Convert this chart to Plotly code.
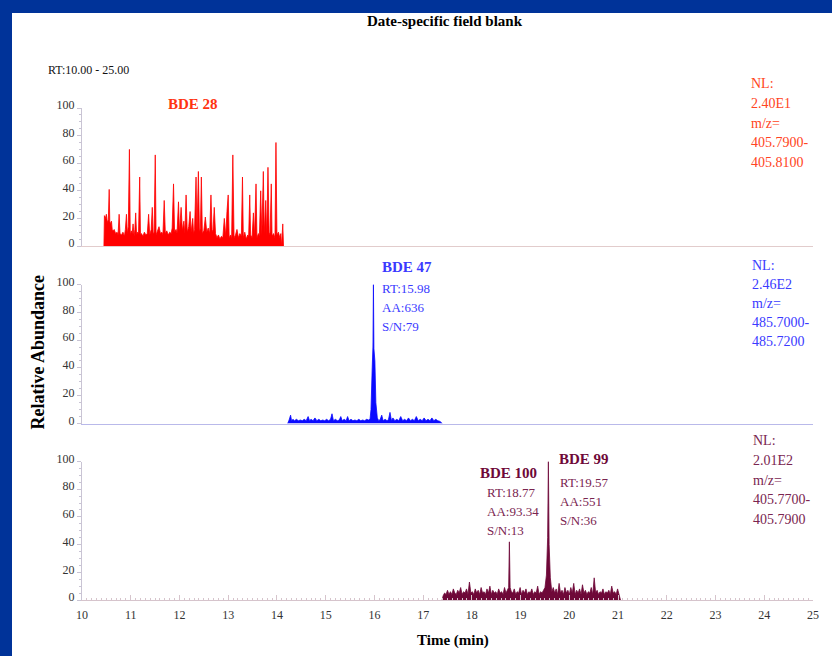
import plotly.graph_objects as go

# ---------------- data ----------------
x_ticks = [10, 11, 12, 13, 14, 15, 16, 17, 18, 19, 20, 21, 22, 23, 24, 25]
y_ticks = [0, 20, 40, 60, 80, 100]

# BDE 28 trace (retention time in min, relative abundance %)
bde28_points = [
    (10.45, 0), (10.46, 22), (10.48, 20), (10.50, 23), (10.52, 17), (10.54, 19),
    (10.558, 41), (10.57, 18), (10.59, 16), (10.605, 18), (10.62, 12), (10.64, 11),
    (10.66, 12), (10.69, 9), (10.72, 10), (10.74, 8), (10.762, 23), (10.78, 9),
    (10.81, 8), (10.84, 10), (10.87, 7), (10.89, 12), (10.912, 23), (10.93, 9),
    (10.95, 14), (10.973, 70), (10.99, 8), (11.01, 11), (11.03, 9), (11.048, 16),
    (11.07, 7), (11.085, 12), (11.102, 24), (11.12, 8), (11.14, 10), (11.16, 9),
    (11.184, 50), (11.20, 8), (11.22, 9), (11.25, 7), (11.28, 10), (11.31, 8),
    (11.34, 9), (11.367, 23), (11.39, 8), (11.42, 12), (11.442, 28), (11.46, 9),
    (11.48, 10), (11.503, 66), (11.52, 8), (11.55, 11), (11.58, 14), (11.61, 9),
    (11.64, 10), (11.66, 8), (11.687, 33), (11.71, 9), (11.74, 11), (11.77, 8),
    (11.80, 10), (11.83, 9), (11.85, 13), (11.878, 45), (11.90, 10), (11.93, 12),
    (11.95, 9), (11.98, 32), (12.00, 10), (12.034, 28), (12.06, 11), (12.09, 18),
    (12.11, 9), (12.136, 37), (12.16, 10), (12.19, 14), (12.218, 25), (12.24, 10),
    (12.272, 20), (12.29, 9), (12.31, 12), (12.34, 50), (12.36, 11), (12.388, 54),
    (12.41, 10), (12.43, 13), (12.449, 50), (12.47, 9), (12.50, 11), (12.531, 21),
    (12.56, 10), (12.59, 13), (12.62, 9), (12.646, 37), (12.67, 10), (12.69, 12),
    (12.714, 28), (12.74, 9), (12.77, 6), (12.80, 8), (12.83, 5), (12.86, 7),
    (12.89, 6), (12.92, 20), (12.95, 7), (12.975, 25), (13.0, 37), (13.02, 6),
    (13.05, 8), (13.07, 5), (13.095, 66), (13.12, 6), (13.15, 8), (13.18, 12),
    (13.21, 6), (13.24, 9), (13.27, 7), (13.293, 50), (13.31, 6), (13.34, 10),
    (13.37, 5), (13.40, 8), (13.42, 7), (13.442, 37), (13.46, 8), (13.49, 6),
    (13.517, 24), (13.54, 7), (13.571, 45), (13.59, 6), (13.62, 9), (13.64, 7),
    (13.667, 40), (13.69, 8), (13.721, 54), (13.74, 9), (13.77, 33), (13.79, 7),
    (13.816, 57), (13.84, 8), (13.86, 10), (13.884, 45), (13.90, 7), (13.93, 9),
    (13.96, 6), (13.98, 75), (14.00, 8), (14.03, 10), (14.06, 6), (14.08, 9),
    (14.095, 0), (14.12, 16), (14.135, 0),
]

# BDE 47 trace
bde47_points = [
    (14.22, 0), (14.23, 1.5), (14.25, 2.5), (14.28, 6), (14.30, 2), (14.33, 3),
    (14.36, 2), (14.40, 3), (14.44, 2), (14.48, 2.5), (14.52, 2), (14.56, 3),
    (14.60, 2), (14.64, 5), (14.67, 2), (14.70, 3), (14.74, 2), (14.78, 4),
    (14.82, 2), (14.86, 3), (14.90, 2), (14.94, 2.5), (14.98, 2), (15.02, 3),
    (15.06, 2), (15.10, 3), (15.13, 7), (15.16, 2), (15.20, 3), (15.24, 2),
    (15.28, 2.5), (15.31, 5), (15.34, 2), (15.38, 3), (15.42, 2), (15.45, 5),
    (15.48, 2), (15.52, 3), (15.56, 2), (15.60, 2.5), (15.64, 2), (15.68, 3),
    (15.72, 2), (15.76, 2.5), (15.80, 2), (15.84, 3), (15.88, 2.5), (15.91, 3),
    (15.93, 10), (15.955, 40), (15.97, 55), (15.98, 100), (15.99, 54), (16.01, 45),
    (16.03, 15), (16.06, 4), (16.09, 2), (16.12, 3), (16.15, 6), (16.18, 2),
    (16.22, 3), (16.26, 2), (16.29, 3), (16.32, 8), (16.35, 2), (16.38, 4),
    (16.42, 2), (16.46, 3), (16.50, 2), (16.54, 5), (16.58, 2), (16.62, 3),
    (16.66, 2), (16.70, 4), (16.74, 2), (16.78, 3), (16.82, 2), (16.86, 5),
    (16.90, 2), (16.94, 3), (16.98, 2), (17.02, 4), (17.06, 2), (17.10, 3),
    (17.14, 2), (17.18, 4), (17.22, 2), (17.26, 3), (17.30, 2), (17.35, 1.5),
    (17.39, 0),
]

# BDE 100 / BDE 99 trace
bde99_points = [
    (17.39, 0), (17.41, 3), (17.44, 5), (17.47, 4), (17.50, 7), (17.53, 4),
    (17.56, 6), (17.59, 4), (17.62, 8), (17.65, 5), (17.68, 4), (17.71, 7),
    (17.74, 5), (17.77, 9), (17.80, 4), (17.83, 6), (17.86, 5), (17.89, 8),
    (17.92, 4), (17.95, 13), (17.98, 5), (18.01, 6), (18.04, 4), (18.07, 8),
    (18.10, 5), (18.13, 7), (18.16, 4), (18.19, 9), (18.22, 5), (18.25, 6),
    (18.28, 4), (18.31, 8), (18.34, 5), (18.37, 10), (18.40, 4), (18.43, 7),
    (18.46, 5), (18.49, 6), (18.52, 4), (18.55, 8), (18.58, 5), (18.61, 6),
    (18.64, 4), (18.67, 9), (18.70, 5), (18.73, 7), (18.755, 9), (18.77, 42),
    (18.785, 9), (18.81, 6), (18.84, 5), (18.87, 8), (18.90, 4), (18.93, 6),
    (18.96, 5), (18.99, 9), (19.02, 4), (19.05, 7), (19.08, 5), (19.11, 8),
    (19.14, 4), (19.17, 6), (19.20, 5), (19.23, 8), (19.26, 4), (19.29, 6),
    (19.32, 5), (19.35, 10), (19.38, 4), (19.41, 6), (19.44, 5), (19.47, 7),
    (19.50, 9), (19.53, 18), (19.555, 45), (19.57, 100), (19.585, 40), (19.61, 16),
    (19.64, 6), (19.67, 9), (19.70, 5), (19.73, 8), (19.76, 4), (19.79, 12),
    (19.82, 5), (19.85, 7), (19.88, 4), (19.91, 9), (19.94, 5), (19.97, 7),
    (20.00, 4), (20.03, 9), (20.06, 5), (20.09, 12), (20.12, 4), (20.15, 7),
    (20.18, 5), (20.21, 8), (20.24, 4), (20.27, 11), (20.30, 5), (20.33, 7),
    (20.36, 4), (20.39, 6), (20.42, 5), (20.45, 9), (20.48, 4), (20.51, 16),
    (20.54, 5), (20.57, 7), (20.60, 4), (20.63, 6), (20.66, 5), (20.69, 8),
    (20.72, 4), (20.75, 6), (20.78, 5), (20.81, 7), (20.84, 4), (20.87, 10),
    (20.90, 5), (20.93, 6), (20.96, 4), (20.99, 8), (21.03, 3), (21.05, 0),
]

nl_bde28 = ["NL:", "2.40E1", "m/z=", "405.7900-", "405.8100"]
nl_bde47 = ["NL:", "2.46E2", "m/z=", "485.7000-", "485.7200"]
nl_bde99 = ["NL:", "2.01E2", "m/z=", "405.7700-", "405.7900"]
peak_bde47 = ["RT:15.98", "AA:636", "S/N:79"]
peak_bde100 = ["RT:18.77", "AA:93.34", "S/N:13"]
peak_bde99 = ["RT:19.57", "AA:551", "S/N:36"]

# ---------------- layout geometry ----------------
FIG_W, FIG_H = 832, 656
M_L, M_R, M_T, M_B = 82, 19, 108, 56
PLOT_W = FIG_W - M_L - M_R
PLOT_H = FIG_H - M_T - M_B
BOTTOM = FIG_H - M_B
FONT = "Liberation Serif"


def px_x(px):
    return (px - M_L) / PLOT_W


def px_y(py):
    return (BOTTOM - py) / PLOT_H


def dom(top, bottom):
    return [max(0.0, px_y(bottom)), min(1.0, px_y(top))]


RED, RED_T = "#ff0000", "#ff4422"
BLUE, BLUE_T = "#0a0aff", "#3a3aff"
MAROON, MAROON_T = "#6e0838", "#7a2550"
AXIS_C = "#c9c4d4"

fig = go.Figure()
panels = [
    (bde28_points, RED, "x3", "y3"),
    (bde47_points, BLUE, "x2", "y2"),
    (bde99_points, MAROON, "x", "y"),
]
for pts, col, xa, ya in panels:
    fig.add_trace(go.Scatter(
        x=[p[0] for p in pts], y=[p[1] for p in pts],
        mode="lines", line=dict(color=col, width=0.8),
        fill="tozeroy", fillcolor=col, xaxis=xa, yaxis=ya,
        hoverinfo="skip", showlegend=False))

tickfont = dict(family=FONT, size=12, color="#333333")
yaxis_common = dict(
    range=[0, 100], tickvals=y_ticks, ticks="outside", ticklen=4, tickwidth=1,
    tickcolor=AXIS_C, showline=True, linecolor=AXIS_C, linewidth=1,
    showgrid=False, zeroline=False, tickfont=tickfont, ticklabelshift=-3,
    minor=dict(dtick=5, ticks="outside", ticklen=2, tickcolor=AXIS_C),
    fixedrange=True)

fig.update_layout(
    width=FIG_W, height=FIG_H,
    margin=dict(l=M_L, r=M_R, t=M_T, b=M_B, autoexpand=False),
    paper_bgcolor="white", plot_bgcolor="white",
    xaxis=dict(domain=[0, 1], range=[10, 25], anchor="y", tickvals=x_ticks,
               ticks="inside", ticklen=5, tickcolor="#d6c4cc", showline=True,
               linecolor="#d6c4cc", showgrid=False, zeroline=False,
               tickfont=dict(family=FONT, size=12, color="#333333"),
               ticklabelstandoff=4,
               minor=dict(dtick=0.1, ticks="inside", ticklen=2.5, tickcolor="#d6c4cc")),
    xaxis2=dict(matches="x", anchor="y2", showticklabels=False, ticks="",
                showline=True, linecolor="#b9b9ea", showgrid=False, zeroline=False),
    xaxis3=dict(matches="x", anchor="y3", showticklabels=False, ticks="",
                showline=True, linecolor="#e2cccc", showgrid=False, zeroline=False),
    yaxis=dict(domain=dom(461.5, 600), anchor="x", **yaxis_common),
    yaxis2=dict(domain=dom(284.5, 423.5), anchor="x2", **yaxis_common),
    yaxis3=dict(domain=dom(108, 246), anchor="x3", **yaxis_common),
)

ann = []


def text(s, px, py, color="black", size=13, bold=False, anchor="left", angle=0):
    ann.append(dict(
        text=f"<b>{s}</b>" if bold else s, x=px_x(px), y=px_y(py),
        xref="paper", yref="paper", xanchor=anchor, yanchor="middle",
        showarrow=False, textangle=angle, borderpad=0,
        font=dict(family=FONT, size=size, color=color)))


def block(lines, px, py0, step, color, size):
    for i, s in enumerate(lines):
        text(s, px, py0 + i * step, color=color, size=size)


text("Date-specific field blank", 445, 21, bold=True, size=15, anchor="center")
text("RT:10.00 - 25.00", 47, 70, size=12, color="#111111")
text("Relative Abundance", 37.5, 352, bold=True, size=18, anchor="center", angle=-90)
text("Time (min)", 453, 640, bold=True, size=15, anchor="center")

text("BDE 28", 167, 104, color="#ff3311", size=15, bold=True)
block(nl_bde28, 750, 84, 19.5, RED_T, 14)

text("BDE 47", 381, 267, color=BLUE_T, size=15, bold=True)
block(peak_bde47, 381, 288.5, 19, BLUE_T, 13)
block(nl_bde47, 751, 265, 19, BLUE_T, 14)

text("BDE 100", 479, 473, color=MAROON, size=15, bold=True)
block(peak_bde100, 486, 492.5, 19, MAROON_T, 13)
text("BDE 99", 558, 458.5, color=MAROON, size=15, bold=True)
block(peak_bde99, 559, 482, 19.3, MAROON_T, 13)
block(nl_bde99, 752, 441, 19.5, MAROON_T, 14)

fig.update_layout(annotations=ann)

# blue frame (left and top bars)
FRAME = "#003399"
fig.add_shape(type="rect", xref="paper", yref="paper", layer="above",
              x0=px_x(0), x1=px_x(12), y0=px_y(FIG_H), y1=px_y(0),
              fillcolor=FRAME, line=dict(width=0))
fig.add_shape(type="rect", xref="paper", yref="paper", layer="above",
              x0=px_x(0), x1=px_x(FIG_W), y0=px_y(13), y1=px_y(0),
              fillcolor=FRAME, line=dict(width=0))

# remove the default page margin so the figure fills the window exactly
fig.write_html("out.html", config={"displayModeBar": False},
               post_script="document.body.style.margin='0';document.body.style.padding='0';")
